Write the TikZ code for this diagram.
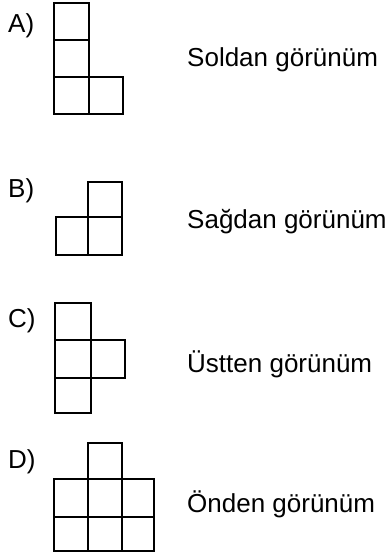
\documentclass[tikz,border=0pt]{standalone}
\usepackage{fontspec}
\setmainfont{Liberation Sans}
\tikzset{
  cell/.style={draw=black, line width=2.4pt, line join=miter},
  lbl/.style={anchor=base west, inner sep=0pt, font=\fontsize{26}{30}\selectfont},
  viewtxt/.style={anchor=base west, inner sep=0pt, font=\fontsize{26}{30}\selectfont}
}
\begin{document}
\begin{tikzpicture}[x=1pt,y=-1pt]
\useasboundingbox (0,0) rectangle (385,553);
% A
\node[lbl] (la) at (8,33) {A)};
\draw[cell] (54,3) rectangle (89,40);
\draw[cell] (54,40) rectangle (89,77);
\draw[cell] (54,77) rectangle (89,114);
\draw[cell] (89,77) rectangle (123,114);
\node[viewtxt] (ta) at (187,67) {Soldan görünüm};
% B
\node[lbl] (lb) at (8,197) {B)};
\draw[cell] (88,182) rectangle (122,217);
\draw[cell] (56,217) rectangle (88,255);
\draw[cell] (88,217) rectangle (122,255);
\node[viewtxt] (tb) at (187,228) {Sağdan görünüm};
% C
\node[lbl] (lc) at (8,327) {C)};
\draw[cell] (55,303) rectangle (91,340);
\draw[cell] (55,340) rectangle (91,378);
\draw[cell] (91,340) rectangle (125,378);
\draw[cell] (55,378) rectangle (91,413);
\node[viewtxt] (tc) at (187,372) {Üstten görünüm};
% D
\node[lbl] (ld) at (8,468) {D)};
\draw[cell] (88,443) rectangle (122,479);
\draw[cell] (54,479) rectangle (88,517);
\draw[cell] (88,479) rectangle (122,517);
\draw[cell] (122,479) rectangle (154,517);
\draw[cell] (54,517) rectangle (88,551);
\draw[cell] (88,517) rectangle (122,551);
\draw[cell] (122,517) rectangle (154,551);
\node[viewtxt] (td) at (187,512) {Önden görünüm};
\end{tikzpicture}
\end{document}
